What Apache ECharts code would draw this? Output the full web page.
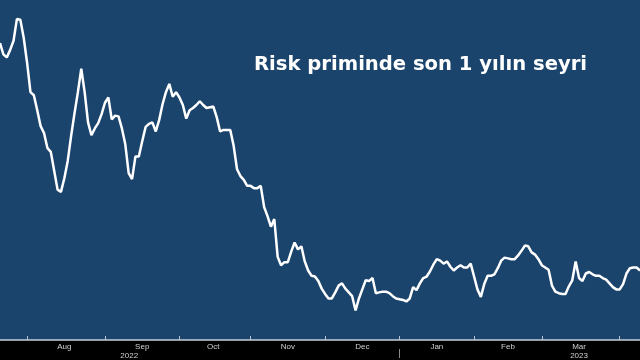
<!DOCTYPE html>
<html>
<head>
<meta charset="utf-8">
<script src="https://cdn.jsdelivr.net/npm/echarts@6/dist/echarts.min.js"></script>
<style>
html,body{margin:0;padding:0;background:#000;}
#c{width:640px;height:360px;}
</style>
</head>
<body>
<div id="c"></div>
<script>
// Title
var titleText = 'Risk priminde son 1 yılın seyri';
// First trading day and count (business days, Mon-Fri)
var startDate = '2022-07-20';
var monthNames = ['Jan','Feb','Mar','Apr','May','Jun','Jul','Aug','Sep','Oct','Nov','Dec'];
// Risk premium (CDS, bp), one value per business day
var riskValues = [
  843,828,824,834,846,875,874,850,817,778,
  774,754,733,724,704,699,674,649,646,664,
  687,720,750,778,809,778,738,721,730,737,
  749,764,771,742,747,746,730,709,671,663,
  693,693,713,732,736,738,726,741,762,778,
  789,772,778,771,761,743,754,757,761,766,
  761,757,758,759,745,726,728,728,728,707,
  676,667,662,654,654,651,651,654,626,614,
  600,610,560,549,553,553,567,579,570,574,
  554,542,535,534,528,518,511,505,505,513,
  522,525,518,513,508,489,505,517,529,528,
  532,512,513,514,514,512,508,505,504,503,
  501,505,520,516,525,532,534,541,550,557,
  555,551,554,547,542,546,549,546,546,551,
  534,517,507,524,535,535,537,545,555,559,
  558,557,557,562,568,575,574,566,563,557,
  549,546,543,522,514,512,511,511,521,529,
  554,532,528,538,540,537,535,535,532,530,
  525,520,517,517,524,538,545,546,546,542
];

// Build business-day categories
var dates = [];
(function(){
  var d = new Date(startDate + 'T00:00:00Z');
  while (dates.length < riskValues.length) {
    var wd = d.getUTCDay();
    if (wd !== 0 && wd !== 6) {
      dates.push(d.toISOString().slice(0,10));
    }
    d = new Date(d.getTime() + 86400000);
  }
})();

// month starts and mid-month indices
var monthStart = {}, monthMid = {}, yearStart = {};
(function(){
  var groups = [];
  for (var i = 0; i < dates.length; i++) {
    var ym = dates[i].slice(0,7);
    if (!groups.length || groups[groups.length-1].ym !== ym) {
      groups.push({ym: ym, first: i, last: i});
    } else groups[groups.length-1].last = i;
  }
  groups.forEach(function(g, k){
    if (k > 0) monthStart[g.first] = true;
    var full = k > 0 && k < groups.length - 1;
    if (full) monthMid[Math.ceil((g.first + g.last) / 2)] = g.ym;
    if (k > 0 && g.ym.slice(5) === '01') yearStart[g.first] = true;
  });
})();

var chart = echarts.init(document.getElementById('c'), null, {renderer: 'canvas'});
var labelFont = '"Liberation Sans", Arial, sans-serif';
chart.setOption({
  backgroundColor: '#000000',
  animation: false,
  title: {
    text: titleText,
    left: 249,
    top: 50,
    textStyle: {
      color: '#ffffff',
      fontFamily: '"DejaVu Sans", Verdana, sans-serif',
      fontWeight: 'bold',
      fontSize: 19.6
    }
  },
  grid: {
    left: 0, right: 0, top: 0, bottom: 18,
    show: true,
    backgroundColor: '#1b446d',
    borderWidth: 0
  },
  xAxis: [{
    type: 'category',
    data: dates,
    boundaryGap: false,
    axisLine: {show: true, lineStyle: {color: '#c8d0d8', width: 1.5}},
    axisTick: {
      show: true,
      inside: true,
      length: 4,
      interval: function(idx){ return !!monthStart[idx]; },
      lineStyle: {color: '#b8c4d0', width: 1}
    },
    axisLabel: {
      show: true,
      interval: function(idx){ return !!monthMid[idx]; },
      margin: 2,
      color: '#d0d0d0',
      fontFamily: labelFont,
      fontSize: 8,
      lineHeight: 9,
      formatter: function(val){
        var m = parseInt(val.slice(5,7), 10);
        var name = monthNames[m-1];
        if (val.slice(0,7) === '2022-09') return name + '\n{y|2022}';
        if (val.slice(0,7) === '2023-03') return name + '\n2023';
        return name;
      },
      rich: {
        y: {color: '#d0d0d0', fontFamily: labelFont, fontSize: 8, lineHeight: 9, padding: [0, 26, 0, 0]}
      }
    },
    splitLine: {show: false}
  }, {
    type: 'category',
    data: dates,
    boundaryGap: false,
    position: 'bottom',
    offset: 9,
    axisLine: {show: false},
    axisTick: {
      show: true,
      length: 9,
      interval: function(idx){ return !!yearStart[idx]; },
      lineStyle: {color: '#8a8a8a', width: 1}
    },
    axisLabel: {show: false},
    splitLine: {show: false}
  }],
  yAxis: {
    type: 'value',
    min: 450,
    max: 900,
    show: false,
    splitLine: {show: false}
  },
  series: [{
    type: 'line',
    data: riskValues,
    xAxisIndex: 0,
    showSymbol: false,
    symbol: 'none',
    lineStyle: {color: '#ffffff', width: 2.5},
    z: 3
  }]
});
</script>
</body>
</html>
